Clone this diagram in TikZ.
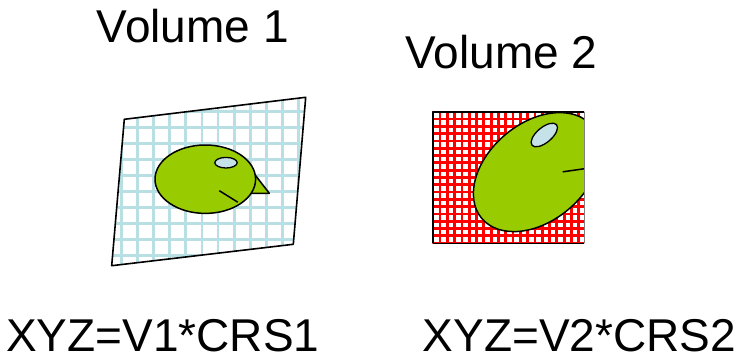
\documentclass[tikz,border=0pt]{standalone}
\usepackage{fontspec}
\setmainfont{Liberation Sans}
\usepackage{tikz}
\definecolor{gridblue}{HTML}{B8E0E4}
\definecolor{birdgreen}{HTML}{99CC00}
\definecolor{eyeblue}{HTML}{C4E2E8}
\newcommand{\birdie}[1]{%
\begin{scope}[#1]
\filldraw[fill=birdgreen, line width=1.5] (50.4,-3.5) -- (64,14.1) -- (45,14.1) -- cycle;
\filldraw[fill=birdgreen, line width=1.5] (0,0) ellipse [x radius=50.3, y radius=34.2];
\filldraw[fill=eyeblue, line width=1.3] (20.7,-16.5) ellipse [x radius=11.2, y radius=5.3];
\draw[line width=1.5] (14,11.5) -- (32.5,23);
\end{scope}}

\begin{document}
\begin{tikzpicture}[x=1pt, y=-1pt, line join=round, label/.style={anchor=base west, inner sep=0, text depth=0pt, font=\fontsize{46}{55}\selectfont}]
\useasboundingbox (0,0) rectangle (750,361);
% volume 1: skewed light grid
\coordinate (A) at (124.3,119.3);
\coordinate (B) at (305.7,97.3);
\coordinate (C) at (293.3,244.3);
\coordinate (D) at (111.7,265.7);
\begin{scope}
\clip (A) -- (B) -- (C) -- (D) -- cycle;
\foreach \x in {0,...,11} \draw[gridblue, line width=2.8] ({121.4+16.1*\x},90) -- ++(0,180);
\foreach \y in {0,...,10} \draw[gridblue, line width=2.8] (100,{95.7+16*\y}) -- ++(220,0);
\end{scope}
\draw[line width=1.6] (A) -- (B) -- (C) -- (D) -- cycle;
\birdie{shift={(205.3,179.2)}}
% volume 2: dense red grid, bird cut at the edge
\coordinate (P) at (432.7,111.7);
\coordinate (Q) at (584,243.3);
\begin{scope}
\clip (P) rectangle (Q);
\fill[white] (P) rectangle (Q);
\foreach \k in {0,...,21} \draw[red, line width=2.8] ({432.7+7.3*\k},100) -- ++(0,150);
\foreach \k in {0,...,18} \draw[red, line width=2.8] (425,{111.7+7.3*\k}) -- ++(170,0);
\birdie{shift={(536.8,172.1)}, rotate=40, scale=1.43}
\end{scope}
\draw[line width=1.6] (Q -| P) -- (P) -- (P -| Q);
\draw[line width=1.6] (Q -| P) -- (Q);
\draw[gray, line width=0.6] (P -| Q) -- (Q);
\node[label] (vol1) at (96.7,42.7) {Volume 1};
\node[label] (vol2) at (405.5,68.3) {Volume 2};
\node[label] (map1) at (6,351) {XYZ=V1*CRS1};
\node[label] (map2) at (422.5,351) {XYZ=V2*CRS2};
\end{tikzpicture}
\end{document}
